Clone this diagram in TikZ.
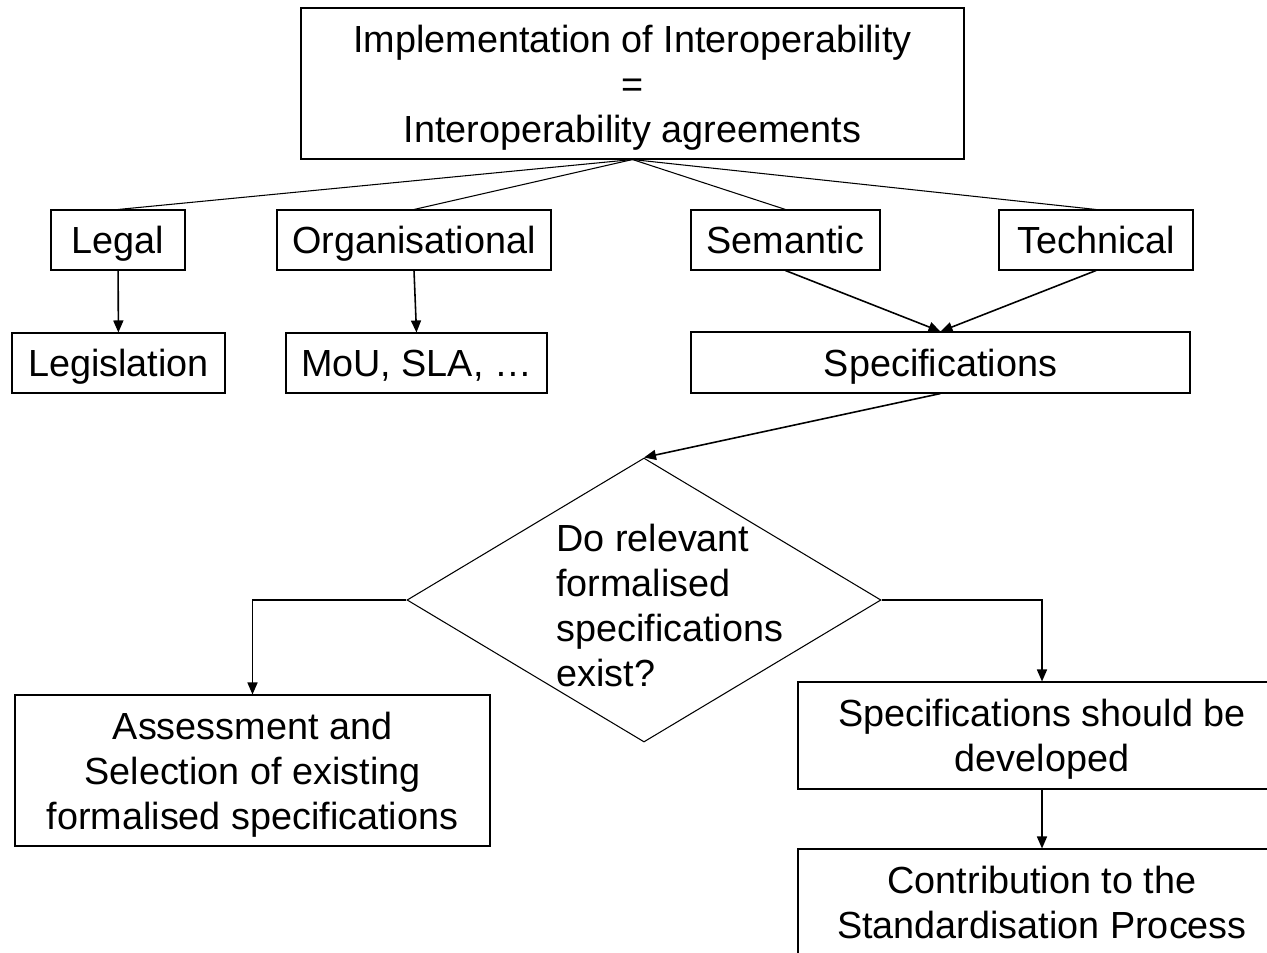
\documentclass[tikz,border=0pt]{standalone}
\usepackage{fontspec}
\setmainfont{Liberation Sans}
\usetikzlibrary{arrows.meta,shapes}

\begin{document}
\begin{tikzpicture}
		\useasboundingbox (0,0) rectangle (25.34,-19.04);
		\tikzstyle{every node} = [font=\fontsize{21.5}{25.6}\selectfont]
		\tikzstyle{box} = [draw, line width=0.6pt, rectangle, inner sep=0pt, align=center, text depth=0pt]
		\tikzstyle{single} = [box, text height=15.4pt]
		\tikzstyle{double} = [box, text height=41pt]
		\tikzstyle{triple} = [box, text height=66.6pt]
		\tikzstyle{arr} = [line width=0.9pt, -{Triangle[length=2.4mm,width=2mm]}]

		\node [triple, minimum width=13.26cm, minimum height=3.02cm] (impl) at (12.65, -1.67)
			{Implementation of Interoperability\\=\\Interoperability agreements};

		\node [single, minimum width=2.68cm, minimum height=1.2cm] (legal) at (2.36, -4.8) {Legal};
		\node [single, minimum width=5.48cm, minimum height=1.2cm] (org) at (8.28, -4.8) {Organisational};
		\node [single, minimum width=3.78cm, minimum height=1.2cm] (sem) at (15.71, -4.8) {Semantic};
		\node [single, minimum width=3.88cm, minimum height=1.2cm] (tech) at (21.92, -4.8) {Technical};

		\node [single, minimum width=4.26cm, minimum height=1.2cm] (legis) at (2.37, -7.26) {Legislation};
		\node [single, minimum width=5.22cm, minimum height=1.2cm] (mou) at (8.33, -7.26) {MoU, SLA, \dots};
		\node [single, minimum width=9.98cm, minimum height=1.22cm] (spec) at (18.81, -7.25) {Specifications};

		\node [draw, line width=0.6pt, diamond, inner sep=0pt, aspect=1.669,
			minimum width=9.48cm, minimum height=5.68cm] (q) at (12.88, -12.0) {};
		\node [anchor=west, inner sep=0pt, align=left] (qtext) at (11.12, -12.1)
			{Do relevant\\formalised\\specifications\\exist?};

		\node [triple, minimum width=9.5cm, minimum height=3.02cm] (assess) at (5.05, -15.41)
			{Assessment and\\Selection of existing\\formalised specifications};
		\node [double, minimum width=9.76cm, minimum height=2.14cm] (develop) at (20.84, -14.71)
			{Specifications should be\\developed};
		\node [double, minimum width=9.76cm, minimum height=2.14cm] (contrib) at (20.84, -18.05)
			{Contribution to the\\Standardisation Process};

		\draw [line width=0.6pt] (impl.south) -- (legal.north);
		\draw [line width=0.6pt] (impl.south) -- (org.north);
		\draw [line width=0.6pt] (impl.south) -- (sem.north);
		\draw [line width=0.6pt] (impl.south) -- (tech.north);

		\draw [arr] (legal) -- (legis);
		\draw [arr] (org.south) -- (mou.north);
		\draw [arr] (sem.south) -- (spec.north);
		\draw [arr] (tech.south) -- (spec.north);
		\draw [arr] (spec.south) -- (q.north);
		\draw [arr] (q.west) -| (assess.north);
		\draw [arr] (q.east) -| (develop.north);
		\draw [arr] (develop) -- (contrib);
\end{tikzpicture}
\end{document}
